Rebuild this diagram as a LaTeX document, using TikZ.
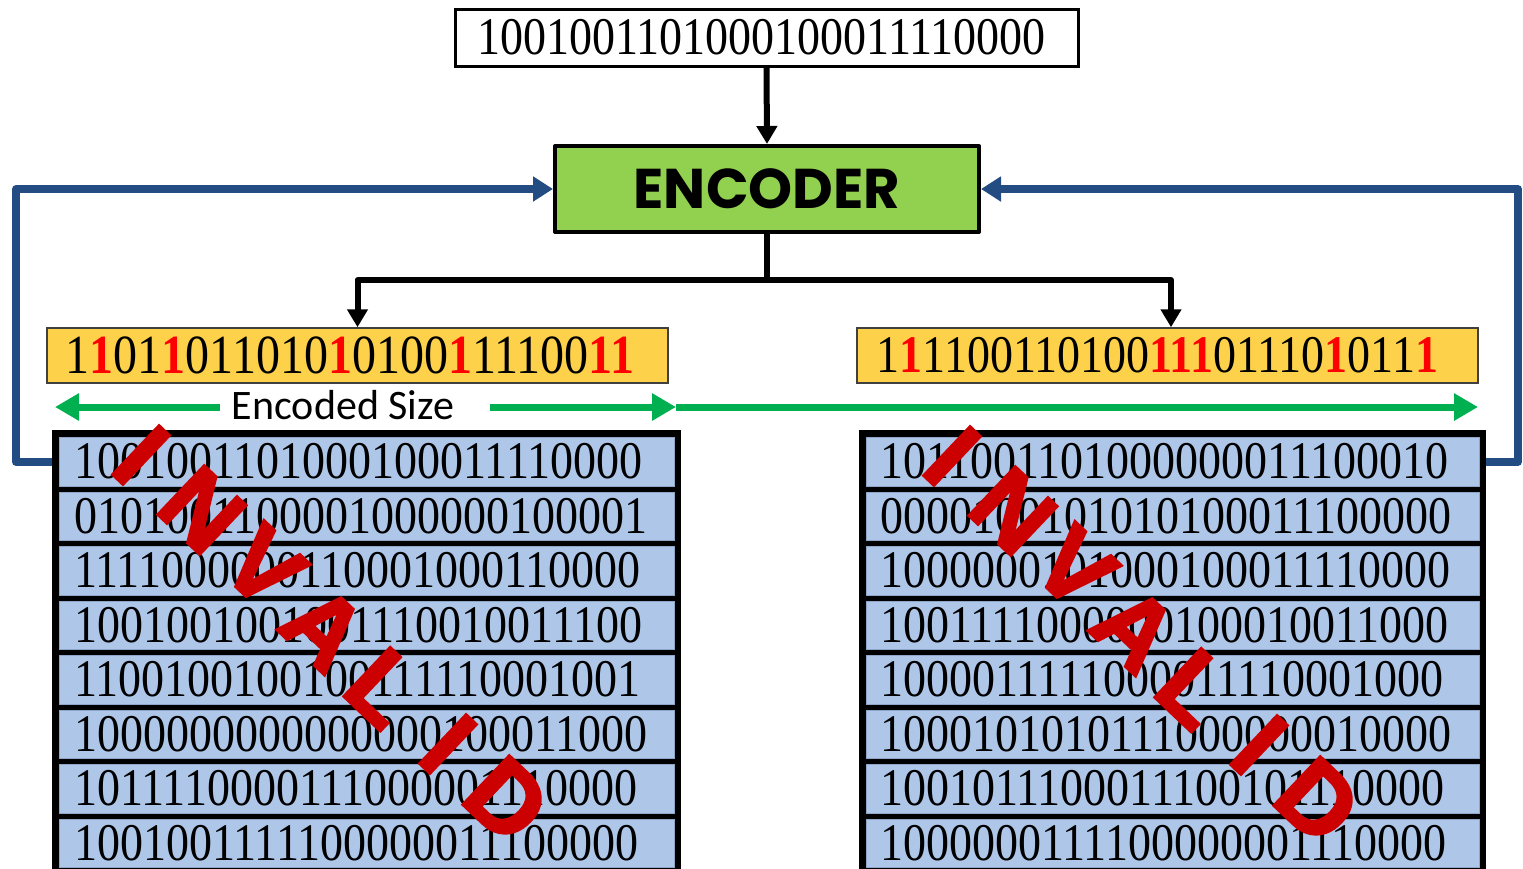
\documentclass[tikz,border=0pt]{standalone}
\usepackage{fontspec}
\setmainfont{Liberation Serif}
\newfontfamily\calib{Carlito}
\newfontfamily\encfont{Poppins}
\newfontfamily\invfont{Liberation Sans}[BoldFeatures={FakeBold=3}]
\usetikzlibrary{arrows.meta}
\definecolor{encgreen}{HTML}{92D050}
\definecolor{goldbox}{HTML}{FDD14A}
\definecolor{cellblue}{HTML}{AEC6E8}
\definecolor{cellline}{HTML}{8EA6C8}
\definecolor{fbblue}{HTML}{234C82}
\definecolor{arrgreen}{HTML}{00B050}
\definecolor{invred}{HTML}{CC0000}
\definecolor{digred}{HTML}{FF0000}
\newcommand{\bitstr}[2][46]{\scalebox{1}[1.15]{\fontsize{#1}{50}\selectfont #2}}
\newcommand{\redbit}[1]{\textcolor{digred}{\textbf{#1}}}
\tikzset{
  bline/.style={line width=6pt, black, line join=round},
  barrow/.style={bline, -{Triangle[length=18pt,width=20pt]}},
  fbarrow/.style={line width=7.5pt, fbblue, line join=round, -{Triangle[length=20pt,width=24pt]}},
  garrow/.style={line width=7pt, arrgreen, -{Triangle[length=24pt,width=26pt]}},
  ybox/.style={draw=black!75, line width=1.5pt, fill=goldbox, minimum width=621pt, minimum height=55pt, inner sep=0pt},
  inv/.style={text=invred, rotate=-43.5, inner sep=0pt, font=\invfont\bfseries\fontsize{98}{98}\selectfont},
  rowtext/.style={anchor=west, inner sep=0pt},
}
\begin{document}
\begin{tikzpicture}[x=1pt, y=-1pt]
\useasboundingbox (0,0) rectangle (1523,868);

% top input
\node[draw, line width=3pt, fill=white, minimum width=623pt, minimum height=57pt, inner sep=0pt] (top) at (766.5,37.5)
  {\hspace*{-10pt}\bitstr{1001001101000100011110000}};
% encoder
\node[draw, line width=4pt, line join=round, fill=encgreen, minimum width=424pt, minimum height=86pt, inner sep=0pt] (enc) at (767,189)
  {\encfont\bfseries\fontsize{56}{60}\selectfont ENCODER};
% yellow outputs
\node[ybox] (yl) at (357.5,355.5) {\hspace*{-15pt}\bitstr[48]{1\redbit{1}01\redbit{1}011010\redbit{1}0100\redbit{1}11100\redbit{11}}};
\node[ybox] (yr) at (1167.5,355.5) {\hspace*{-20pt}\bitstr[46]{1\redbit{1}1100110100\redbit{111}01110\redbit{1}011\redbit{1}}};

% tables
\begin{scope}
\clip (0,0) rectangle (1523,868);
\fill[black] (52,430) rectangle (681,890);
\fill[black] (859,430) rectangle (1486,890);
\foreach \r [count=\k from 0] in {1001001101000100011110000,0101001100001000000100001,1111000000110001000110000,1001001001001110010011100,1100100100100111110001001,1000000000000000100011000,1011110000111000001110000,1001001111100000011100000}{
  \fill[cellblue, draw=cellline, line width=1pt] ({59},{437.5+54.5*\k}) rectangle ({674},{486+54.5*\k});
  \node[rowtext] (L\k) at ({74},{461.5+54.5*\k}) {\bitstr{\r}};
}
\foreach \r [count=\k from 0] in {1011001101000000011100010,0000100101010100011100000,1000000101000100011110000,1001111000000100010011000,1000011111000011110001000,1000101010111000000010000,1001011100011100101110000,1000000111100000001110000}{
  \fill[cellblue, draw=cellline, line width=1pt] ({866},{437.5+54.5*\k}) rectangle ({1479},{486+54.5*\k});
  \node[rowtext] (R\k) at ({880},{461.5+54.5*\k}) {\bitstr{\r}};
}
\end{scope}

% INVALID overlays
\foreach \ch/\px/\py [count=\n] in {I/141/455,N/202/510,V/264/567,A/324/628,L/384/688,I/448/744,D/507/800}{
  \node[inv] (invL\n) at (\px,\py) {\ch};
  \node[inv] (invR\n) at ({\px+811},{\py+1}) {\ch};
}

% connectors
\draw[barrow] (top.south) -- (enc.north);
\coordinate (split) at (767,280);
\draw[bline] (enc.south) -- (split);
\draw[barrow] (split) -| (yl.north);
\draw[barrow] (split) -| ([xshift=3.5pt]yr.north);

% feedback lines
\coordinate (tlw) at (52,462);
\coordinate (tre) at (1486,462);
\draw[fbarrow] (tlw) -- (16,462) |- (enc.west);
\draw[fbarrow] (tre) -- (1518,462) |- (enc.east);

% encoded size
\node[inner sep=0pt] (es) at (343,405) {\calib\fontsize{42}{46}\selectfont Encoded Size};
\coordinate (gL) at (55,407);
\coordinate (gLs) at (220,407);
\coordinate (gRs) at (490,407);
\coordinate (gM) at (676,407);
\coordinate (gR) at (1478,407);
\draw[garrow] (gLs) -- (gL);
\draw[garrow] (gRs) -- (gM);
\draw[garrow] (gM) -- (gR);
\end{tikzpicture}
\end{document}
